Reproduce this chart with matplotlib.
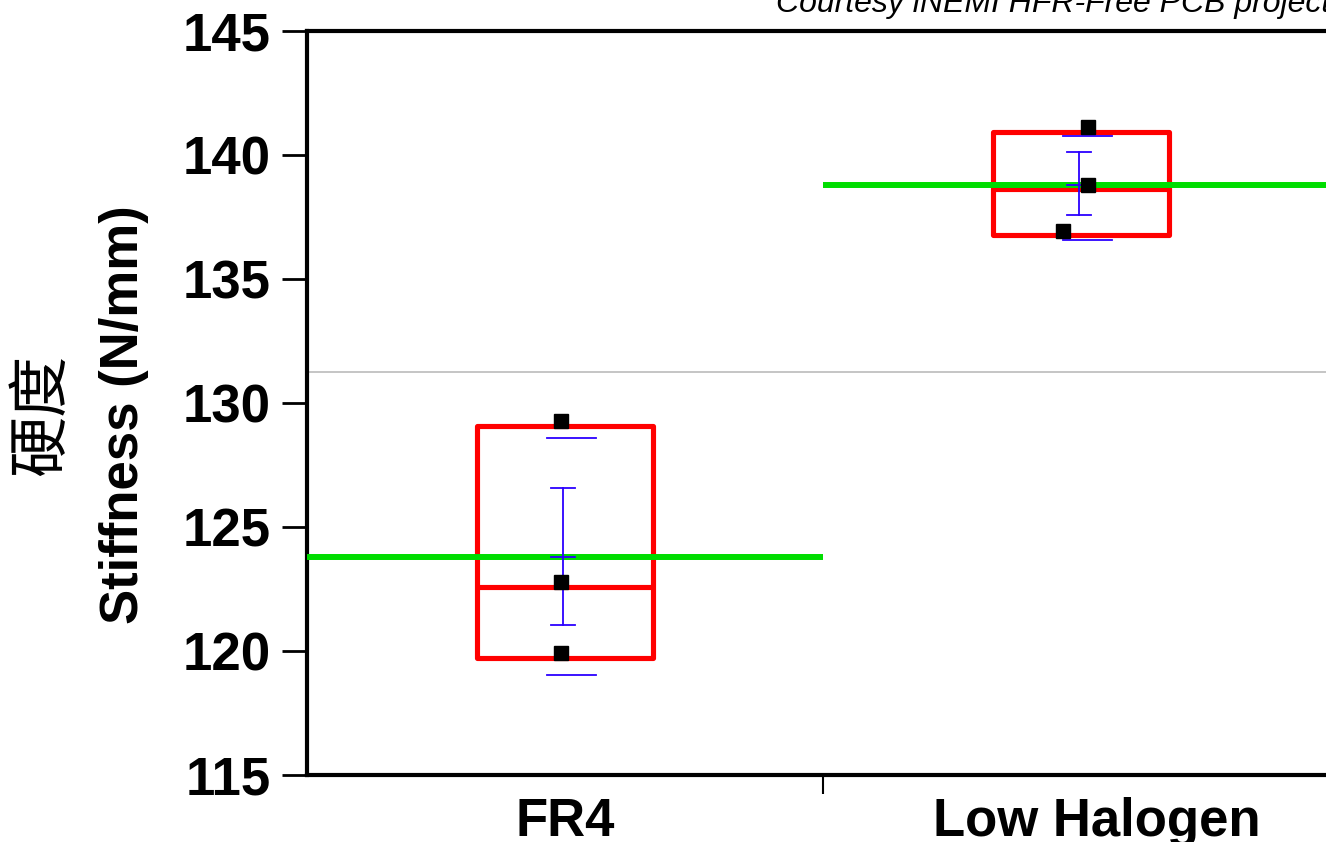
import matplotlib
matplotlib.use('Agg')
import matplotlib.pyplot as plt
import matplotlib.transforms as mtransforms
from matplotlib.patches import Rectangle

# ---- data ----
categories = ['FR4', 'Low Halogen']
points = [[129.27, 122.77, 119.92], [141.11, 138.78, 136.94]]
q1 = [119.72, 136.76]
median = [122.58, 138.62]
q3 = [129.07, 140.91]
means = [123.8, 138.78]
ci_low = [121.06, 137.60]
ci_high = [126.58, 140.13]
sd_low = [119.04, 136.57]
sd_high = [128.57, 140.75]
grand_mean = 131.27
y_ticks = [115, 120, 125, 130, 135, 140, 145]
credit = 'Courtesy iNEMI HFR-Free PCB project'

# ---- style ----
jitter = [[-0.008, -0.008, -0.008], [0.014, 0.014, -0.035]]
box_half = 0.17
sd_half = 0.0475
sd_shift = 0.012
ci_shift = -0.004
cap_half = 0.023

plt.rcParams['font.family'] = ['Liberation Sans', 'DejaVu Sans']

W, H = 1326, 842
fig = plt.figure(figsize=(W / 100, H / 100), dpi=100)
left, right, top, bottom = 307, 1339, 31, 775
ax = fig.add_axes([left / W, 1 - bottom / H, (right - left) / W, (bottom - top) / H])

ax.set_xlim(0, len(categories))
ax.set_ylim(y_ticks[0], y_ticks[-1])

# grand mean
ax.axhline(grand_mean, color='#BBBBBB', lw=1.2, zorder=1)

for i, cat in enumerate(categories):
    c = i + 0.5
    # box
    ax.add_patch(Rectangle((c - box_half, q1[i]), 2 * box_half, q3[i] - q1[i],
                           fill=False, ec='#FF0000', lw=3.7, joinstyle='round', zorder=2))
    ax.plot([c - box_half, c + box_half], [median[i], median[i]], color='#FF0000',
            lw=3.7, solid_capstyle='butt', zorder=2)
    # group mean line
    ax.plot([i, i + 1], [means[i], means[i]], color='#00DD00', lw=4.3,
            solid_capstyle='butt', zorder=3)
    # std dev lines
    for v in (sd_low[i], sd_high[i]):
        ax.plot([c + sd_shift - sd_half, c + sd_shift + sd_half], [v, v],
                color='#2B00FF', lw=1.3, zorder=4)
    # mean error bar
    xc = c + ci_shift
    ax.plot([xc, xc], [ci_low[i], ci_high[i]], color='#2B00FF', lw=1.3, zorder=4)
    for v in (ci_low[i], ci_high[i], means[i]):
        ax.plot([xc - cap_half, xc + cap_half], [v, v], color='#2B00FF', lw=1.3, zorder=4)
    # points
    ax.plot([c + j for j in jitter[i]], points[i], linestyle='none', marker='s',
            ms=10, color='black', zorder=5)

# spines
for s in ('left', 'bottom', 'top'):
    ax.spines[s].set_linewidth(3)
ax.spines['right'].set_visible(False)

# y ticks
ax.set_yticks(y_ticks)
ax.set_yticklabels([str(t) for t in y_ticks])
ax.tick_params(axis='y', direction='out', length=18, width=2, pad=8,
               labelsize=38)
for lab in ax.get_yticklabels():
    lab.set_fontweight('bold')

# x ticks: separator major tick, category labels on minor ticks
ax.set_xticks(list(range(1, len(categories))))
ax.set_xticklabels([])
ax.tick_params(axis='x', which='major', direction='out', length=14, width=1.5)
ax.set_xticks([i + 0.5 for i in range(len(categories))], minor=True)
ax.set_xticklabels(categories, minor=True)
ax.tick_params(axis='x', which='minor', length=0, pad=16, labelsize=38)
xlabs = ax.get_xticklabels(minor=True)
for lab in xlabs:
    lab.set_fontweight('bold')
xlabs[1].set_transform(xlabs[1].get_transform() +
                       mtransforms.ScaledTranslation(16 / 100, 0, fig.dpi_scale_trans))

# y labels
fig.text(124 / W, 1 - 415 / H, 'Stiffness (N/mm)', rotation=90, ha='center',
         va='center', fontsize=38, fontweight='bold')
fig.text(42 / W, 1 - 415 / H, '硬度', rotation=90, ha='center', va='center',
         fontsize=44, family=['Noto Sans CJK SC', 'DejaVu Sans'])

# credit
fig.text(1330 / W, 1 - 12 / H, credit, ha='right', va='baseline',
         style='italic', fontsize=23)

fig.savefig('out.png', dpi=100)
